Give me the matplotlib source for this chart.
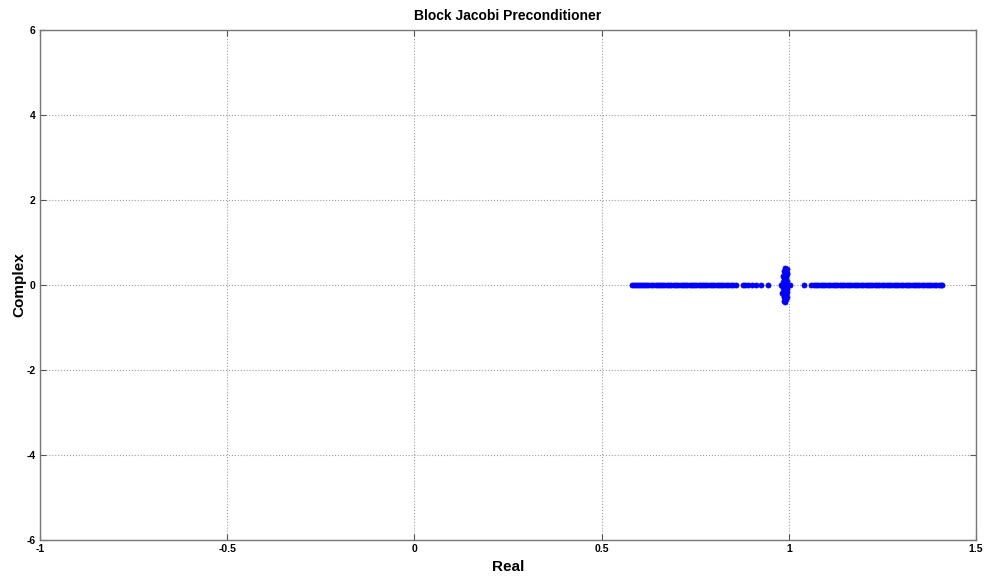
import numpy as np
import matplotlib
matplotlib.use('Agg')
import matplotlib.pyplot as plt

# eigenvalues (real part, imaginary part)
left_re = [0.580, 0.586, 0.591, 0.597, 0.603, 0.608, 0.612, 0.619, 0.625, 0.631,
           0.636, 0.644, 0.650, 0.657, 0.661, 0.668, 0.674, 0.679, 0.686, 0.693,
           0.699, 0.704, 0.711, 0.717, 0.722, 0.729, 0.735, 0.741, 0.747, 0.752,
           0.759, 0.765, 0.771, 0.776, 0.782, 0.789, 0.794, 0.800, 0.807, 0.813,
           0.818, 0.824, 0.831, 0.838, 0.845, 0.852, 0.859, 0.878, 0.884, 0.891,
           0.903, 0.913, 0.926, 0.944]
right_re = [1.041, 1.058, 1.066, 1.072, 1.079, 1.085, 1.092, 1.098, 1.104, 1.111,
            1.117, 1.123, 1.129, 1.136, 1.142, 1.148, 1.155, 1.161, 1.167, 1.173,
            1.180, 1.186, 1.192, 1.198, 1.205, 1.211, 1.217, 1.223, 1.230, 1.236,
            1.242, 1.249, 1.255, 1.261, 1.268, 1.274, 1.280, 1.287, 1.293, 1.299,
            1.305, 1.312, 1.318, 1.324, 1.331, 1.337, 1.343, 1.349, 1.356, 1.362,
            1.368, 1.375, 1.381, 1.387, 1.394, 1.400, 1.406, 1.410]
clu_re = [0.990, 0.994, 0.986, 0.992, 0.989, 0.995, 0.985, 0.993, 0.987, 0.991,
          0.996, 0.984, 0.990, 0.993, 0.986, 0.997, 0.982, 0.999, 0.980, 1.003,
          0.985, 0.995, 0.990, 0.984, 0.994, 0.988, 0.996, 0.983, 0.992, 0.986,
          0.995, 0.989, 0.993, 0.987, 0.991, 0.994, 0.988, 0.990, 0.992, 0.986]
clu_im = [0.40, 0.37, 0.34, 0.31, 0.28, 0.25, 0.22, 0.19, 0.16, 0.13,
          0.10, 0.08, 0.05, 0.03, 0.02, 0.0, 0.0, 0.0, 0.0, 0.0,
          -0.02, -0.03, -0.05, -0.08, -0.10, -0.13, -0.16, -0.19, -0.22, -0.25,
          -0.28, -0.31, -0.34, -0.37, -0.40, 0.29, -0.29, 0.12, -0.12, 0.20]

re = np.concatenate([left_re, right_re, clu_re])
im = np.concatenate([np.zeros(len(left_re)), np.zeros(len(right_re)), clu_im])

plt.rcParams['font.family'] = ['Liberation Sans', 'DejaVu Sans']
plt.rcParams['font.weight'] = 'bold'
plt.rcParams['axes.unicode_minus'] = False

fig = plt.figure(figsize=(9.87, 5.78), dpi=100)
ax = fig.add_axes([40 / 987, 38 / 578, 936 / 987, 510 / 578])
ax.plot(re, im, linestyle='none', marker='o', color='#0000ff', markersize=3.6,
        markeredgewidth=0.6)

ax.set_xlim(-1, 1.5)
ax.set_ylim(-6, 6)
ax.set_xticks([-1, -0.5, 0, 0.5, 1, 1.5])
ax.set_xticklabels(['-1', '-0.5', '0', '0.5', '1', '1.5'])
ax.set_yticks([-6, -4, -2, 0, 2, 4, 6])
ax.grid(True, linestyle=':', color='#a0a0a0', linewidth=0.8)
ax.tick_params(direction='in', labelsize=7.5, length=4, color='#555555', pad=3,
               top=True, right=True)
for s in ax.spines.values():
    s.set_color('#777777')
    s.set_linewidth(1.0)

ax.set_xlabel('Real', fontsize=11, fontweight='bold', labelpad=4)
ax.set_ylabel('Complex', fontsize=11, fontweight='bold', labelpad=0)
ax.set_title('Block Jacobi Preconditioner', fontsize=10, fontweight='bold', pad=7)

fig.savefig('out.png', dpi=100)
